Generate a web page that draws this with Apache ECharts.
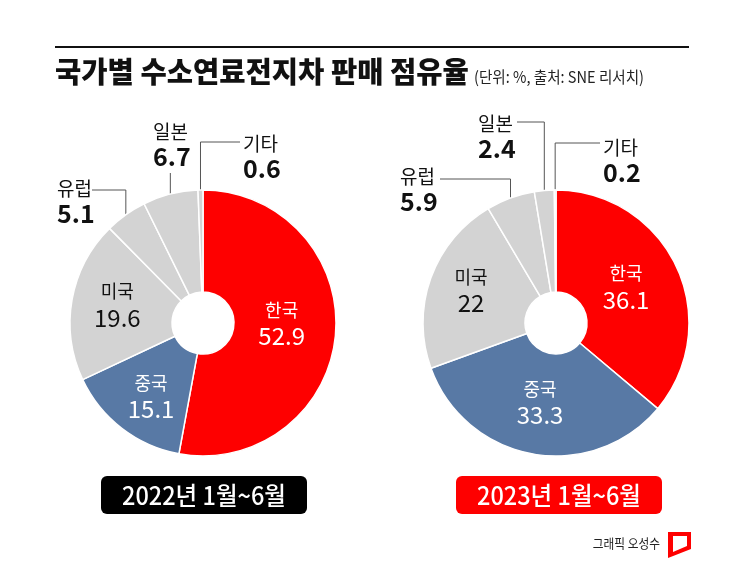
<!DOCTYPE html>
<html>
<head>
<meta charset="utf-8">
<script src="https://cdn.jsdelivr.net/npm/echarts@6/dist/echarts.min.js"></script>
<style>
html,body{margin:0;padding:0;background:#fff;}
#c{width:745px;height:567px;}
</style>
</head>
<body>
<div id="c"></div>
<script>
// ---- data ----
const categories = ['한국', '중국', '미국', '유럽', '일본', '기타'];
const share2022 = [52.9, 15.1, 19.6, 5.1, 6.7, 0.6];
const share2023 = [36.1, 33.3, 22, 5.9, 2.4, 0.2];
const periodLabels = ['2022년 1월~6월', '2023년 1월~6월'];
const titleText = '국가별 수소연료전지차 판매 점유율';
const unitText = '(단위: %, 출처: SNE 리서치)';
const creditText = '그래픽 오성수';

// ---- style / layout ----
const FONT = "'Noto Sans CJK KR', 'Noto Sans', sans-serif";
const RED = '#fe0000', BLUE = '#5879a5', GRAY = '#d3d3d3';
const sliceColors = [RED, BLUE, GRAY, GRAY, GRAY, GRAY];
const insideColors = ['#fff', '#fff', '#111'];
const insideOffsets = [[[-6, -7], [0, 6], [-2, -3]], [[-7, 0], [-1, -4], [-5, -4]]];
const centers = [[203, 323], [556, 323]];
const R = 133, R0 = 31;
const outsideCfg = [
  {3: {x: 57, y: 178, lineY: 190, lineX: 92, inset: 10},
   4: {x: 153, y: 121, lineY: 173, lineX: null, inset: 8},
   5: {x: 243, y: 133, lineY: 142, lineX: 240, inset: 3}},
  {3: {x: 400, y: 166, lineY: 179, lineX: 440, inset: 6},
   4: {x: 478, y: 113, lineY: 122, lineX: 517, inset: 6},
   5: {x: 603, y: 137, lineY: 143, lineX: 600, inset: 3}}
];
const allShares = [share2022, share2023];

function edgePoint(si, di) {
  const vals = allShares[si];
  const total = vals.reduce((a, b) => a + b, 0);
  let cum = 0;
  for (let i = 0; i < di; i++) cum += vals[i];
  const ang = (cum + vals[di] / 2) / total * Math.PI * 2;
  const c = centers[si];
  return [c[0] + R * Math.sin(ang), c[1] - R * Math.cos(ang)];
}

function buildData(si) {
  return categories.map((name, i) => {
    const outside = !!outsideCfg[si][i];
    return {
      name: name,
      value: allShares[si][i],
      itemStyle: {color: sliceColors[i]},
      label: outside ? {
        position: 'outside',
        formatter: '{n|{b}}\n{v|{c}}',
        rich: {
          n: {fontFamily: FONT, fontSize: 19, lineHeight: 22, color: '#111'},
          v: {fontFamily: FONT, fontSize: 25, fontWeight: 'bold', lineHeight: 26, color: '#111'}
        }
      } : {
        position: 'inside',
        offset: insideOffsets[si][i],
        formatter: '{n|{b}}\n{v|{c}}',
        rich: {
          n: {fontFamily: FONT, fontSize: 18, lineHeight: 25, color: insideColors[i], align: 'center'},
          v: {fontFamily: FONT, fontSize: 24, lineHeight: 27, color: insideColors[i], align: 'center'}
        }
      },
      labelLine: {show: outside, lineStyle: {color: '#555', width: 1}}
    };
  });
}

function makeSeries(si) {
  return {
    type: 'pie',
    center: centers[si],
    radius: [R0, R],
    startAngle: 90,
    clockwise: true,
    avoidLabelOverlap: false,
    animation: false,
    silent: true,
    emphasis: {disabled: true},
    itemStyle: {borderColor: '#fff', borderWidth: 1.5},
    labelLine: {show: true, length: 10, length2: 10, smooth: false},
    labelLayout: function (params) {
      const cfg = outsideCfg[si][params.dataIndex];
      if (!cfg) return {};
      const p = edgePoint(si, params.dataIndex);
      const lx = cfg.lineX == null ? p[0] : cfg.lineX;
      return {
        x: cfg.x, y: cfg.y, align: 'left', verticalAlign: 'top',
        hideOverlap: false,
        labelLinePoints: [[p[0], p[1] + cfg.inset], [p[0], cfg.lineY], [lx, cfg.lineY]]
      };
    },
    data: buildData(si)
  };
}

const chart = echarts.init(document.getElementById('c'), null, {renderer: 'canvas'});
chart.setOption({
  backgroundColor: '#fff',
  series: [makeSeries(0), makeSeries(1)],
  graphic: [
    {type: 'line', shape: {x1: 55, y1: 47, x2: 689, y2: 47}, style: {stroke: '#111', lineWidth: 2}, silent: true},
    {type: 'text', x: 55, y: 72, scaleX: 0.985, style: {text: titleText, font: "900 29px " + FONT, fill: '#111', textAlign: 'left', textVerticalAlign: 'middle'}, silent: true},
    {type: 'text', x: 474, y: 77, scaleX: 0.91, style: {text: unitText, font: "16px " + FONT, fill: '#222', textAlign: 'left', textVerticalAlign: 'middle'}, silent: true},
    {type: 'rect', shape: {x: 101, y: 476, width: 206, height: 38, r: 6}, style: {fill: '#000'}, silent: true},
    {type: 'rect', shape: {x: 456, y: 476, width: 206, height: 38, r: 6}, style: {fill: RED}, silent: true},
    {type: 'text', x: 204, y: 495, scaleX: 0.94, style: {text: periodLabels[0], font: "500 25px " + FONT, fill: '#fff', textAlign: 'center', textVerticalAlign: 'middle'}, silent: true},
    {type: 'text', x: 559, y: 495, scaleX: 0.94, style: {text: periodLabels[1], font: "500 25px " + FONT, fill: '#fff', textAlign: 'center', textVerticalAlign: 'middle'}, silent: true},
    {type: 'text', x: 660, y: 543, scaleX: 0.9, style: {text: creditText, font: "13px " + FONT, fill: '#222', textAlign: 'right', textVerticalAlign: 'middle'}, silent: true},
    {type: 'polygon', shape: {points: [[668, 532], [691, 532], [691, 549], [668, 558]]}, style: {fill: RED}, silent: true},
    {type: 'polygon', shape: {points: [[673, 536], [687, 536], [687, 546], [673, 552]]}, style: {fill: '#fff'}, silent: true}
  ]
});
</script>
</body>
</html>
